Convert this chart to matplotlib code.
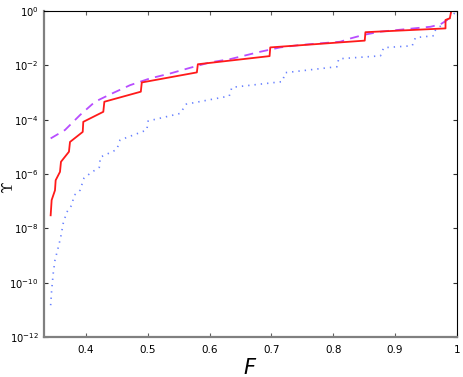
import numpy as np
import matplotlib
matplotlib.use("Agg")
import matplotlib.pyplot as plt

# red solid: staircase
red_F = [0.3428, 0.3444, 0.3498, 0.3509, 0.3579, 0.3595, 0.3724, 0.3741, 0.3947, 0.3956,
         0.4280, 0.4297, 0.4887, 0.4903, 0.5794, 0.5810, 0.6971, 0.6982, 0.8511, 0.8522,
         0.9818, 0.9818, 0.9888, 0.9911, 1.0]
red_logY = [-7.52, -6.96, -6.60, -6.23, -5.92, -5.55, -5.18, -4.82, -4.45, -4.08,
            -3.71, -3.34, -2.97, -2.63, -2.26, -1.96, -1.66, -1.34, -1.09, -0.78,
            -0.64, -0.33, -0.27, 0.0, 0.0]

# purple dashed: smooth bound
purple_F = [0.3428, 0.3660, 0.3903, 0.4146, 0.4389, 0.4713, 0.5037, 0.5361, 0.5686, 0.6010,
            0.6334, 0.6496, 0.6820, 0.7144, 0.7468, 0.7792, 0.8117, 0.8279, 0.8490, 0.8765,
            0.9300, 0.9575, 0.9737, 0.9846, 0.9911]
purple_logY = [-4.69, -4.38, -3.83, -3.34, -3.07, -2.73, -2.48, -2.30, -2.09, -1.89,
               -1.77, -1.68, -1.50, -1.34, -1.25, -1.19, -1.13, -1.01, -0.88, -0.76,
               -0.64, -0.58, -0.49, -0.33, -0.05]

# blue dotted
blue_F = [0.3428, 0.3444, 0.3470, 0.3498, 0.3551, 0.3590, 0.3632, 0.3687, 0.3768, 0.3810,
          0.3903, 0.3968, 0.4065, 0.4216, 0.4232, 0.4498, 0.4551, 0.4984, 0.5005, 0.5524,
          0.5621, 0.6318, 0.6361, 0.7177, 0.7225, 0.8063, 0.8089, 0.8765, 0.8818, 0.9279,
          0.9332, 0.9629, 0.9656, 0.9818, 1.0]
blue_logY = [-10.83, -10.28, -9.65, -9.17, -8.70, -8.33, -7.81, -7.41, -7.15, -6.78,
             -6.60, -6.15, -5.98, -5.75, -5.38, -5.10, -4.75, -4.38, -4.05, -3.77,
             -3.43, -3.13, -2.81, -2.60, -2.27, -2.05, -1.76, -1.65, -1.35, -1.28,
             -0.98, -0.91, -0.70, -0.41, 0.0]

xticks = [0.4, 0.5, 0.6, 0.7, 0.8, 0.9, 1.0]
xticklabels = ["0.4", "0.5", "0.6", "0.7", "0.8", "0.9", "1"]
yticks = [1e-12, 1e-10, 1e-8, 1e-6, 1e-4, 1e-2, 1e0]

fig = plt.figure(figsize=(4.63, 3.77), dpi=100)
ax = fig.add_axes([0.095, 0.1061, 0.8915, 0.8647])

ax.plot(blue_F, 10.0 ** np.array(blue_logY), color="#4d6bff", lw=1.2,
        linestyle=(0, (0.8, 3.0)), alpha=0.85)
ax.plot(purple_F, 10.0 ** np.array(purple_logY), color="#b84dff", lw=1.3,
        linestyle=(0, (5, 3.5)))
ax.plot(red_F, 10.0 ** np.array(red_logY), color="#ff1a1a", lw=1.3)

ax.set_yscale("log")
ax.set_xlim(0.332, 1.0)
ax.set_ylim(1e-12, 1e0)
ax.set_xticks(xticks)
ax.set_xticklabels(xticklabels)
ax.set_yticks(yticks)
ax.yaxis.set_minor_locator(matplotlib.ticker.NullLocator())

for s in ["left", "bottom"]:
    ax.spines[s].set_color("#808080")
    ax.spines[s].set_linewidth(1.6)
for s in ["top", "right"]:
    ax.spines[s].set_color("black")
    ax.spines[s].set_linewidth(0.8)

ax.tick_params(axis="x", which="major", direction="in", top=True, length=3,
               labelsize=7.5, color="#606060", pad=6)
ax.tick_params(axis="y", which="major", direction="in", right=True, length=3,
               labelsize=7.2, color="#303030", pad=4)

ax.set_xlabel("$F$", fontsize=15, labelpad=2)
ax.set_ylabel(r"$\Upsilon$", fontsize=11, rotation=90, va="center",
              math_fontfamily="cm")
ax.yaxis.set_label_coords(-0.085, 0.46)

fig.savefig("out.png", dpi=100)
